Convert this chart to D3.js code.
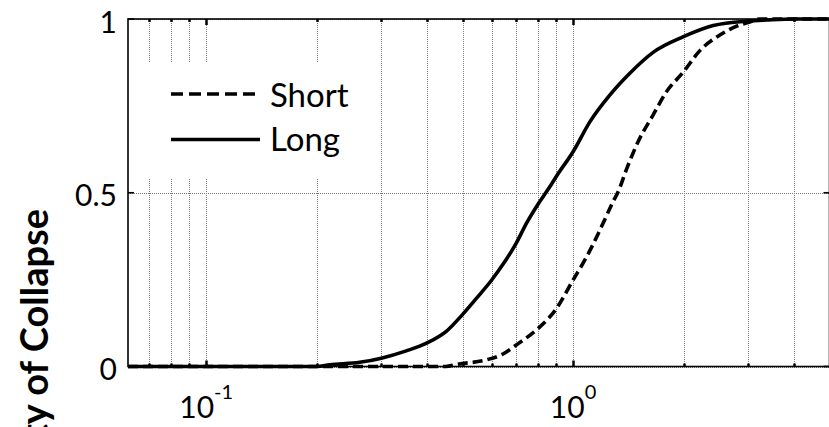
<!DOCTYPE html>
<html>
<head>
<meta charset="utf-8">
<script src="https://cdn.jsdelivr.net/npm/d3@7"></script>
<style>
  html, body { margin: 0; padding: 0; background: #fff; }
  svg { display: block; }
</style>
</head>
<body>
<svg id="chart" width="829" height="427"></svg>
<script>
// data (x = intensity, log scale; p = probability)
const longX  = [0.0612, 0.2, 0.217, 0.262, 0.3, 0.351, 0.4, 0.452, 0.5, 0.545, 0.6, 0.644, 0.7, 0.746, 0.8, 0.864, 0.9, 1.0, 1.111, 1.259, 1.428, 1.653, 2.0, 2.41, 3.0, 3.37, 4.0, 5.0];
const longP  = [0, 0, 0.005, 0.012, 0.024, 0.045, 0.068, 0.102, 0.150, 0.196, 0.249, 0.294, 0.355, 0.412, 0.465, 0.517, 0.547, 0.618, 0.704, 0.781, 0.844, 0.904, 0.949, 0.981, 0.994, 0.997, 1, 1];
const shortX = [0.0612, 0.45, 0.481, 0.58, 0.644, 0.7, 0.8, 0.9, 1.0, 1.076, 1.134, 1.207, 1.285, 1.327, 1.399, 1.504, 1.653, 1.798, 2.0, 2.216, 2.513, 2.85, 3.0, 3.23, 4.0, 5.0];
const shortP = [0, 0, 0.006, 0.019, 0.036, 0.062, 0.108, 0.166, 0.249, 0.306, 0.352, 0.412, 0.474, 0.503, 0.568, 0.647, 0.724, 0.791, 0.848, 0.909, 0.954, 0.983, 0.99, 1, 1, 1];

const seriesNames = ['Short', 'Long'];
const gridX = [0.07, 0.08, 0.09, 0.1, 0.2, 0.3, 0.4, 0.5, 0.6, 0.7, 0.8, 0.9, 1, 2, 3, 4];
const majorX = [0.1, 1];
const xTickExp = ['-1', '0'];
const yTicks = [0, 0.5, 1];
const yTickLabels = ['0', '0.5', '1'];
const yLabel = 'Probability of Collapse';

const FONT = 'Lato, "Open Sans", sans-serif';

const svg = d3.select('#chart');
const pLeft = 128, pRight = 829.5, pTop = 19, pBottom = 366.5;

const x = d3.scaleLog().domain([0.0612, 5]).range([pLeft, pRight]);
const y = d3.scaleLinear().domain([0, 1]).range([pBottom, pTop]);

// 网格线 (dotted)
const grid = svg.append('g')
    .attr('stroke', '#7a7a7a')
    .attr('stroke-width', 1)
    .attr('stroke-dasharray', '1,1');

grid.selectAll('.gx')
    .data(gridX)
    .join('line')
    .attr('x1', d => Math.round(x(d)) + 0.5)
    .attr('x2', d => Math.round(x(d)) + 0.5)
    .attr('y1', pTop)
    .attr('y2', pBottom);

grid.selectAll('.gy')
    .data(yTicks)
    .join('line')
    .attr('x1', pLeft)
    .attr('x2', pRight)
    .attr('y1', d => Math.round(y(d)) + 0.5)
    .attr('y2', d => Math.round(y(d)) + 0.5);

// 曲线
const line = d3.line()
    .curve(d3.curveMonotoneX)
    .x(d => x(d[0]))
    .y(d => y(d[1]));

const longData = longX.map((v, i) => [v, longP[i]]);
const shortData = shortX.map((v, i) => [v, shortP[i]]);

svg.append('path')
    .datum(longData)
    .attr('d', line)
    .attr('fill', 'none')
    .attr('stroke', '#000')
    .attr('stroke-width', 3.6)
    .attr('stroke-linejoin', 'round');

svg.append('path')
    .datum(shortData)
    .attr('d', line)
    .attr('fill', 'none')
    .attr('stroke', '#000')
    .attr('stroke-width', 3.6)
    .attr('stroke-dasharray', '10,5');

// 坐标轴框
svg.append('rect')
    .attr('x', pLeft)
    .attr('y', pTop)
    .attr('width', pRight - pLeft)
    .attr('height', pBottom - pTop)
    .attr('fill', 'none')
    .attr('stroke', '#000')
    .attr('stroke-width', 1.6);

// ticks on top / bottom, inward
const ticks = svg.append('g').attr('stroke', '#000');
gridX.forEach(v => {
    const len = majorX.includes(v) ? 6 : 3;
    const px = Math.round(x(v)) + 0.5;
    ticks.append('line').attr('x1', px).attr('x2', px).attr('y1', pTop).attr('y2', pTop + len).attr('stroke-width', 2.5);
    ticks.append('line').attr('x1', px).attr('x2', px).attr('y1', pBottom).attr('y2', pBottom - len).attr('stroke-width', 2.5);
});
yTicks.forEach(v => {
    ticks.append('line').attr('x1', pLeft).attr('x2', pLeft + 6).attr('y1', y(v)).attr('y2', y(v)).attr('stroke-width', 1.6);
    ticks.append('line').attr('x1', pRight - 6).attr('x2', pRight).attr('y1', y(v)).attr('y2', y(v)).attr('stroke-width', 1.6);
});

// y tick labels
svg.append('g')
    .selectAll('text')
    .data(yTicks)
    .join('text')
    .attr('x', 117)
    .attr('y', d => y(d) + 13.5)
    .attr('text-anchor', 'end')
    .attr('font-family', FONT)
    .attr('font-size', 30)
    .text((d, i) => yTickLabels[i]);

// x tick labels 10^n
const xl = svg.append('g')
    .selectAll('text')
    .data(majorX)
    .join('text')
    .attr('x', d => x(d))
    .attr('y', 418)
    .attr('text-anchor', 'middle')
    .attr('font-family', FONT)
    .attr('font-size', 30);
xl.append('tspan').text('10');
xl.append('tspan')
    .attr('font-size', 20)
    .attr('dy', -19)
    .text((d, i) => xTickExp[i]);

// y axis title (cut off at the left edge, as in the source figure)
svg.append('text')
    .attr('transform', 'translate(48,209) rotate(-90)')
    .attr('text-anchor', 'end')
    .attr('font-family', FONT)
    .attr('font-weight', 'bold')
    .attr('font-size', 38)
    .text(yLabel);

// 图例
const legend = svg.append('g');
legend.append('rect')
    .attr('x', 140).attr('y', 62)
    .attr('width', 225).attr('height', 116)
    .attr('fill', '#fff');

const legendRows = [
    { name: seriesNames[0], ly: 94, ty: 107, dash: '12,6', x2: 255 },
    { name: seriesNames[1], ly: 139.5, ty: 151, dash: null, x2: 260 }
];
legendRows.forEach(r => {
    legend.append('line')
        .attr('x1', 171).attr('x2', r.x2)
        .attr('y1', r.ly).attr('y2', r.ly)
        .attr('stroke', '#000')
        .attr('stroke-width', 3.6)
        .attr('stroke-dasharray', r.dash);
    legend.append('text')
        .attr('x', 270).attr('y', r.ty)
        .attr('font-family', FONT)
        .attr('font-size', 33)
        .text(r.name);
});
</script>
</body>
</html>
